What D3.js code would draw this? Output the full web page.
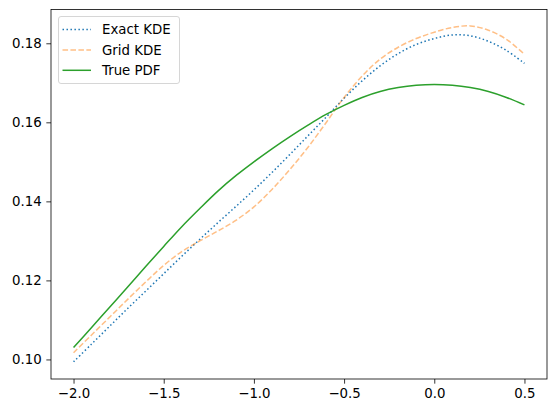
<!DOCTYPE html>
<html>
  <head>
    <meta charset="utf-8">
    <script type="text/javascript" src="https://cdn.jsdelivr.net/npm/d3@7/dist/d3.min.js"></script>
    <style>
      body { margin: 0; background: #fff; }
      text { font-family: "DejaVu Sans", sans-serif; }
    </style>
  </head>
  <body>
    <div id="viz"></div>
    <script type="text/javascript">
      // values
      const xs = [-2.0, -1.9, -1.8, -1.7, -1.6, -1.5, -1.4, -1.3, -1.2, -1.1, -1.0,
                  -0.9, -0.8, -0.7, -0.6, -0.5, -0.4, -0.3, -0.2, -0.1, 0.0,
                  0.1, 0.2, 0.3, 0.4, 0.5];
      const exactKde = [0.0994, 0.1039, 0.1084, 0.1129, 0.1173, 0.1217, 0.1261, 0.1304, 0.1346, 0.1387, 0.1429,
                        0.1473, 0.1519, 0.1566, 0.1613, 0.1661, 0.1705, 0.1743, 0.1774, 0.1797, 0.1812,
                        0.1821, 0.1819, 0.1805, 0.1782, 0.1749];
      const gridKde = [0.1017, 0.1062, 0.1107, 0.1152, 0.1196, 0.1238, 0.1273, 0.1300, 0.1325, 0.1352, 0.1386,
                       0.1430, 0.1481, 0.1537, 0.1599, 0.1663, 0.1717, 0.1760, 0.1790, 0.1812, 0.1828,
                       0.1840, 0.1844, 0.1833, 0.1810, 0.1772];
      const truePdf = [0.1030, 0.1081, 0.1132, 0.1183, 0.1235, 0.1286, 0.1336, 0.1382, 0.1426, 0.1465, 0.1500,
                       0.1533, 0.1564, 0.1593, 0.1620, 0.1643, 0.1663, 0.1678, 0.1688, 0.1694, 0.1696,
                       0.1694, 0.1688, 0.1678, 0.1663, 0.1644];
      const xTicks = [-2.0, -1.5, -1.0, -0.5, 0.0, 0.5];
      const yTicks = [0.10, 0.12, 0.14, 0.16, 0.18];
      const seriesNames = ["Exact KDE", "Grid KDE", "True PDF"];

      const width = 556, height = 413;
      const plotLeft = 51, plotRight = 547, plotTop = 9.5, plotBottom = 379;

      const series = [
        { name: seriesNames[0], vals: exactKde, color: "#1f77b4", opacity: 1, dash: "1.5,2.475" },
        { name: seriesNames[1], vals: gridKde, color: "#ff7f0e", opacity: 0.5, dash: "5.55,2.4" },
        { name: seriesNames[2], vals: truePdf, color: "#2ca02c", opacity: 1, dash: null }
      ];

      const svg = d3.select("#viz").append("svg")
        .attr("width", width)
        .attr("height", height);

      const x = d3.scaleLinear().domain([-2.125, 0.625]).range([plotLeft, plotRight]);
      const y = d3.scaleLinear().domain([0.09505, 0.18855]).range([plotBottom, plotTop]);

      const line = d3.line()
        .x((d, i) => x(xs[i]))
        .y(d => y(d))
        .curve(d3.curveCatmullRom);

      const plot = svg.append("g");
      series.forEach(s => {
        plot.append("path")
          .attr("d", line(s.vals))
          .attr("fill", "none")
          .attr("stroke", s.color)
          .attr("stroke-opacity", s.opacity)
          .attr("stroke-width", 1.5)
          .attr("stroke-dasharray", s.dash);
      });

      const fmtX = d3.format(".1f");
      const fmtY = d3.format(".2f");

      const xAxis = svg.append("g")
        .attr("transform", "translate(0," + plotBottom + ")")
        .call(d3.axisBottom(x).tickValues(xTicks).tickFormat(fmtX).tickSize(4.67).tickPadding(4.67));
      const yAxis = svg.append("g")
        .attr("transform", "translate(" + plotLeft + ",0)")
        .call(d3.axisLeft(y).tickValues(yTicks).tickFormat(fmtY).tickSize(4.67).tickPadding(4.67));

      [xAxis, yAxis].forEach(a => {
        a.select(".domain").remove();
        a.selectAll("line").attr("stroke", "#000").attr("stroke-width", 0.8);
        a.selectAll("text").attr("font-size", 13.33).attr("fill", "#000")
          .attr("font-family", "DejaVu Sans, sans-serif");
      });

      svg.append("rect")
        .attr("x", plotLeft).attr("y", plotTop)
        .attr("width", plotRight - plotLeft).attr("height", plotBottom - plotTop)
        .attr("fill", "none").attr("stroke", "#000").attr("stroke-width", 0.8);

      // legend
      const lg = svg.append("g").attr("transform", "translate(58.5,16.5)");
      lg.append("rect")
        .attr("width", 121).attr("height", 67).attr("rx", 2.5)
        .attr("fill", "#fff").attr("fill-opacity", 0.8)
        .attr("stroke", "#cccccc").attr("stroke-width", 0.8);
      series.forEach((s, i) => {
        const row = lg.append("g").attr("transform", "translate(0," + (13 + i * 20.4) + ")");
        row.append("line")
          .attr("x1", 4).attr("x2", 32.5)
          .attr("stroke", s.color).attr("stroke-opacity", s.opacity)
          .attr("stroke-width", 1.5).attr("stroke-dasharray", s.dash);
        row.append("text")
          .attr("x", 43.5).attr("y", 0).attr("dy", "0.35em")
          .attr("font-size", 13.33).attr("fill", "#000")
          .text(s.name);
      });
    </script>
  </body>
</html>
